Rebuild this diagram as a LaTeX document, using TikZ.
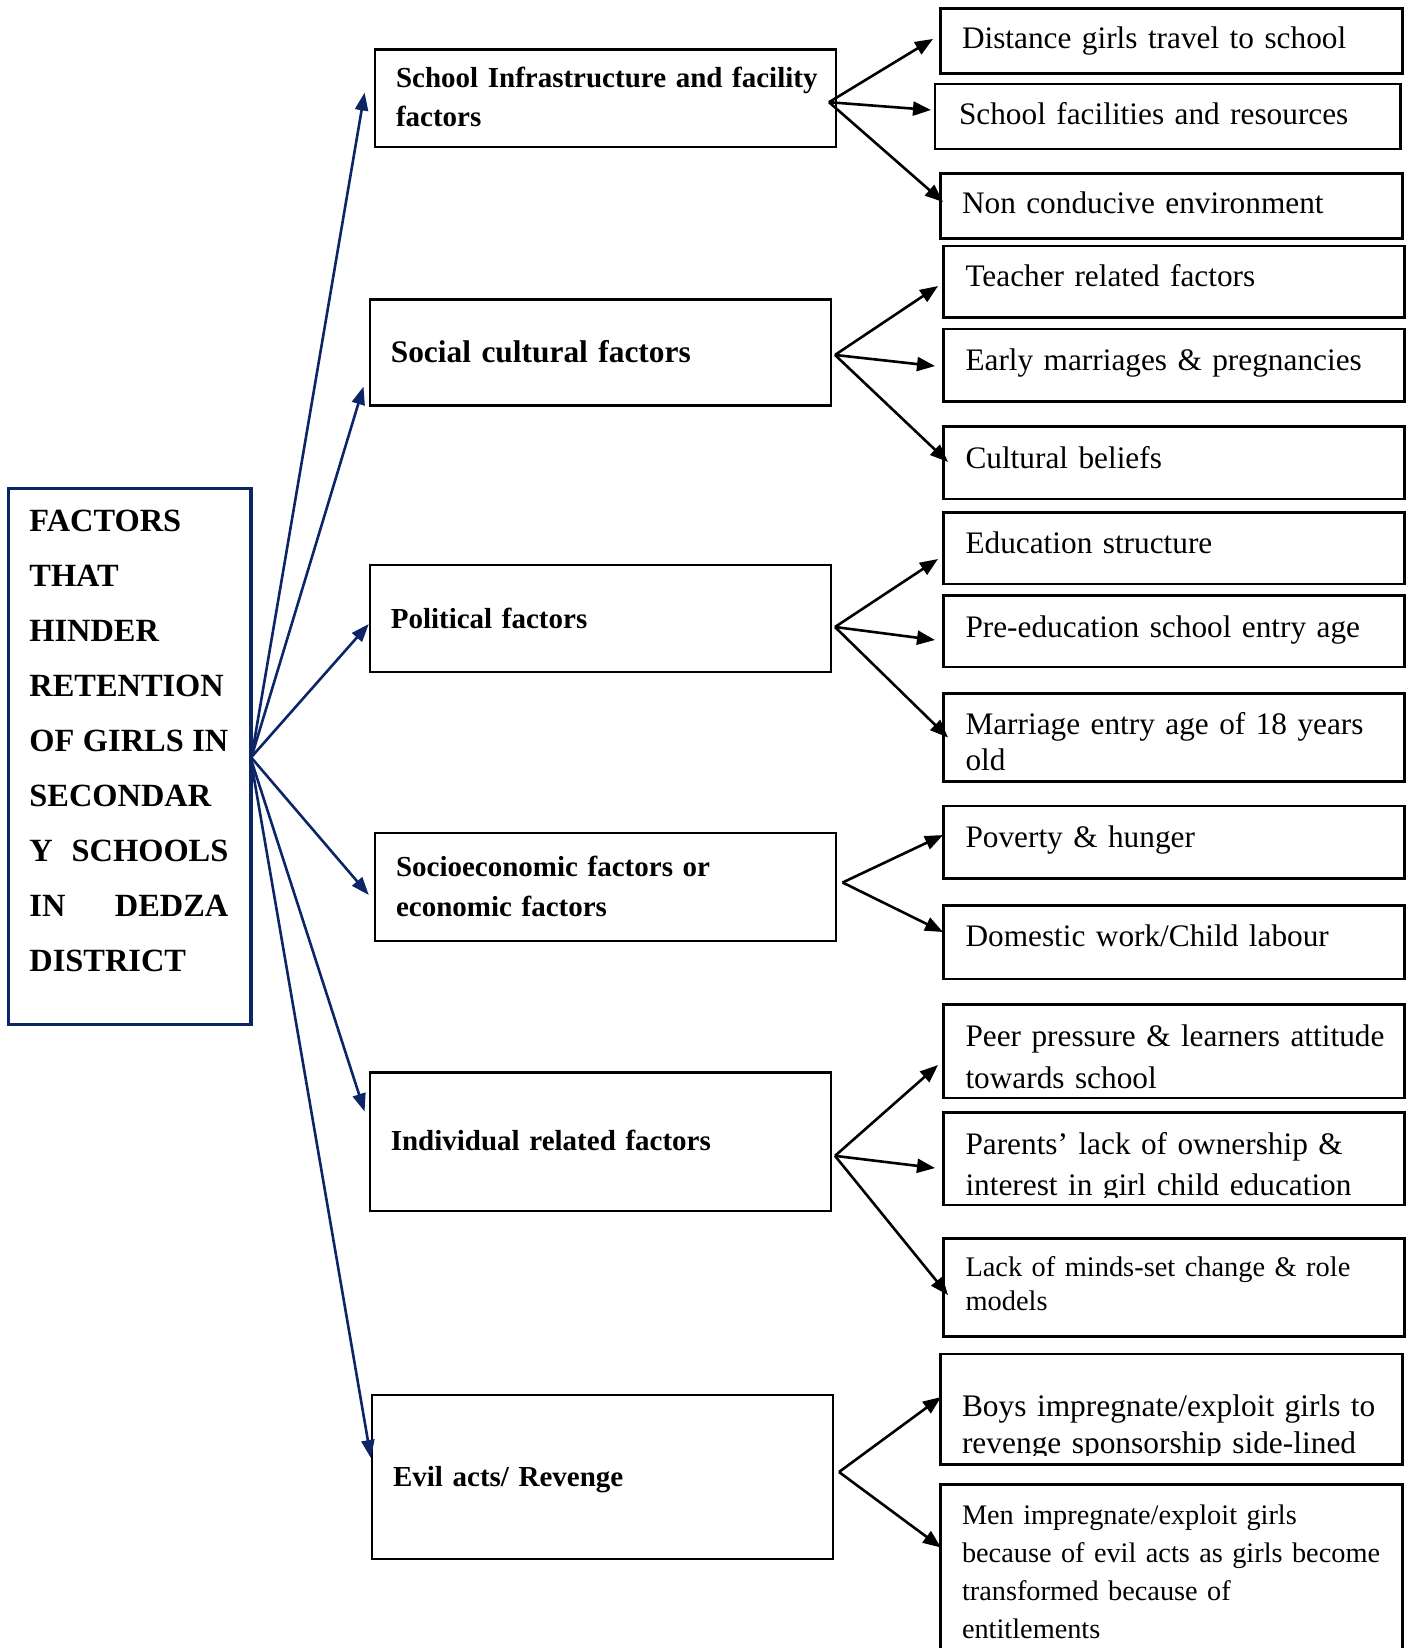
\documentclass[tikz,border=0pt]{standalone}
\usepackage{fontspec}
\setmainfont{Liberation Serif}
\usetikzlibrary{arrows.meta,calc}
\definecolor{navyblue}{HTML}{0B2566}
\newcommand\mybox[6]{\node[#2, anchor=north west, minimum width={(#5)-(#3)}, minimum height={(#6)-(#4)}] (#1) at (#3,#4) {};}
\newcommand\jline[1]{\makebox[199pt][l]{#1}}
\begin{document}
\begin{tikzpicture}[x=1pt,y=-1pt,
  bx/.style={draw=black, line width=2.5pt, rectangle, inner sep=0pt, outer sep=0pt},
  cbx/.style={draw=navyblue, line width=3.5pt, rectangle, inner sep=0pt, outer sep=0pt},
  tx/.style={inner sep=0pt, outer sep=0pt, anchor=base west, text width=#1, align=left},
  tx/.default=440pt,
  navarr/.style={draw=navyblue, line width=2.6pt, -{Triangle[length=18pt,width=13pt]}},
  blkarr/.style={draw=black, line width=2.6pt, -{Triangle[length=18pt,width=14pt]}},
  fr/.style={font=\fontsize{31.3}{#1}\selectfont}, fr/.default=37pt,
  fs/.style={font=\fontsize{28.4}{#1}\selectfont}, fs/.default=34pt,
  fb/.style={font=\bfseries\fontsize{29}{#1}\selectfont}, fb/.default=39pt
]
\useasboundingbox (0,0) rectangle (1411,1648);
\clip (0,0) rectangle (1411,1648);

% central box
\mybox{ctr}{cbx}{8.4}{488.5}{251}{1024.3}
\node[tx=220pt, font=\bfseries\fontsize{32.4}{55}\selectfont] (ctrt) at (29.4,531)
  {FACTORS\\ THAT\\ HINDER\\ RETENTION\\ \jline{OF\hfill GIRLS\hfill IN}\\ SECONDAR\\ \jline{Y\hfill SCHOOLS}\\ \jline{IN\hfill DEDZA}\\ DISTRICT};

% middle boxes
\mybox{m1}{bx}{375}{49.4}{836}{147}
\mybox{m2}{bx}{369.8}{299.4}{831}{405.5}
\mybox{m3}{bx}{369.8}{565}{831}{672}
\mybox{m4}{bx}{375}{833}{836}{941}
\mybox{m5}{bx}{369.8}{1072.7}{831}{1211}
\mybox{m6}{bx}{372}{1395}{833}{1559}

\node[tx, fb=39pt] (m1t) at (396,88) {School Infrastructure and facility\\ factors};
\node[tx, font=\bfseries\fontsize{31.4}{37}\selectfont] (m2t) at (390.8,362) {Social cultural factors};
\node[tx, fb] (m3t) at (390.8,628) {Political factors};
\node[tx, fb=40pt] (m4t) at (396,876) {Socioeconomic factors or\\ economic factors};
\node[tx, fb] (m5t) at (390.8,1150) {Individual related factors};
\node[tx, fb] (m6t) at (393,1486) {Evil acts/ Revenge};

% right boxes
\mybox{r1}{bx}{940.3}{8.4}{1402.6}{73.5}
\mybox{r2}{bx}{935}{84}{1400.5}{149}
\mybox{r3}{bx}{940.3}{173.4}{1402.6}{238.5}
\mybox{r4}{bx}{943.4}{245.8}{1404.7}{317.3}
\mybox{r5}{bx}{943.4}{328.8}{1404.7}{401.3}
\mybox{r6}{bx}{943.4}{426.5}{1404.7}{499}
\mybox{r7}{bx}{943.4}{512.7}{1404.7}{584.1}
\mybox{r8}{bx}{943.4}{595.7}{1404.7}{667.1}
\mybox{r9}{bx}{943.4}{693.4}{1404.7}{781.6}
\mybox{r10}{bx}{943.4}{805.8}{1404.7}{878.3}
\mybox{r11}{bx}{943.4}{905.6}{1404.7}{979.2}
\mybox{r12}{bx}{943.4}{1004.4}{1404.7}{1097.9}
\mybox{r13}{bx}{943.4}{1112.6}{1404.7}{1205}
\mybox{r14}{bx}{943.4}{1238.7}{1404.7}{1336.4}
\mybox{r15}{bx}{940.3}{1354.2}{1402.6}{1464.6}
\mybox{r16}{bx}{940.3}{1484.5}{1402.6}{1700}

\node[tx, fr] (r1t) at (962,49) {Distance girls travel to school};
\node[tx, fr] (r2t) at (959,124.5) {School facilities and resources};
\node[tx, fr] (r3t) at (962,214) {Non conducive environment};
\node[tx, fr] (r4t) at (965.5,286) {Teacher related factors};
\node[tx, fr] (r5t) at (965.5,370) {Early marriages \& pregnancies};
\node[tx, fr] (r6t) at (965.5,468) {Cultural beliefs};
\node[tx, fr] (r7t) at (965.5,553) {Education structure};
\node[tx, fr] (r8t) at (965.5,637) {Pre-education school entry age};
\node[tx, fr=36.7pt] (r9t) at (965.5,734) {Marriage entry age of 18 years\\ old};
\node[tx, fr] (r10t) at (965.5,847) {Poverty \& hunger};
\node[tx, fr] (r11t) at (965.5,946) {Domestic work/Child labour};
\node[tx, fr=42pt] (r12t) at (965.5,1046) {Peer pressure \& learners attitude\\ towards school};
\begin{scope}
  \clip (944,1114) rectangle (1404,1197);
  \node[tx, fr=41pt] (r13t) at (965.5,1154) {Parents’ lack of ownership \&\\ interest in girl child education};
\end{scope}
\node[tx, fs=34pt] (r14t) at (965.5,1276) {Lack of minds-set change \& role\\ models};
\begin{scope}
  \clip (941,1356) rectangle (1402,1455);
  \node[tx, font=\fontsize{31.4}{37}\selectfont] (r15t) at (962,1416) {Boys impregnate/exploit girls to\\ revenge sponsorship side-lined};
\end{scope}
\node[tx, font=\fontsize{28.3}{38}\selectfont] (r16t) at (962,1524) {Men impregnate/exploit girls\\ because of evil acts as girls become\\ transformed because of\\ entitlements};

% navy connectors
\draw[navarr] ($(ctr.east)+(1,-2)$) -- ($(m1.west)+(-10.4,-5.7)$);
\draw[navarr] ($(ctr.east)+(1,-1)$) -- ($(m2.west)+(-6.3,34.1)$);
\draw[navarr] ($(ctr.east)+(1,0)$) -- ($(m3.west)+(-1,5.5)$);
\draw[navarr] ($(ctr.east)+(1,2)$) -- ($(m4.west)+(-6.2,8)$);
\draw[navarr] ($(ctr.east)+(1,6)$) -- ($(m5.west)+(-5.2,-30.3)$);
\draw[navarr] ($(ctr.east)+(1,10)$) -- ($(m6.west)+(-1.1,-19)$);

% black connectors
\coordinate (o1) at ($(m1.east)+(-7,4)$);
\coordinate (o2) at ($(m2.east)+(4,2.5)$);
\coordinate (o3) at ($(m3.east)+(4,8.5)$);
\coordinate (o4) at ($(m4.east)+(6.6,-4.5)$);
\coordinate (o5) at ($(m5.east)+(4,14)$);
\coordinate (o6) at ($(m6.east)+(6,-5)$);

\draw[blkarr] (o1) -- ($(r1.west)+(-7.3,-2)$);
\draw[blkarr] (o1) -- ($(r2.west)+(-4,-6.5)$);
\draw[blkarr] (o1) -- ($(r3.west)+(2.7,-4)$);
\draw[blkarr] (o2) -- ($(r4.west)+(-5.4,4.5)$);
\draw[blkarr] (o2) -- ($(r5.west)+(-8.4,1)$);
\draw[blkarr] (o2) -- ($(r6.west)+(4.6,-0.75)$);
\draw[blkarr] (o3) -- ($(r7.west)+(-5.4,10.6)$);
\draw[blkarr] (o3) -- ($(r8.west)+(-8.4,8.6)$);
\draw[blkarr] (o3) -- ($(r9.west)+(4.6,0)$);
\draw[blkarr] (o4) -- ($(r10.west)+(-0.4,-7)$);
\draw[blkarr] (o4) -- ($(r11.west)+(-0.4,-10.4)$);
\draw[blkarr] (o5) -- ($(r12.west)+(-5.4,13.9)$);
\draw[blkarr] (o5) -- ($(r13.west)+(-8.4,9.2)$);
\draw[blkarr] (o5) -- ($(r14.west)+(4.6,7.5)$);
\draw[blkarr] (o6) -- ($(r15.west)+(0.7,-12.4)$);
\draw[blkarr] (o6) -- ($(r16.north west)+(0.7,63)$);
\end{tikzpicture}
\end{document}
